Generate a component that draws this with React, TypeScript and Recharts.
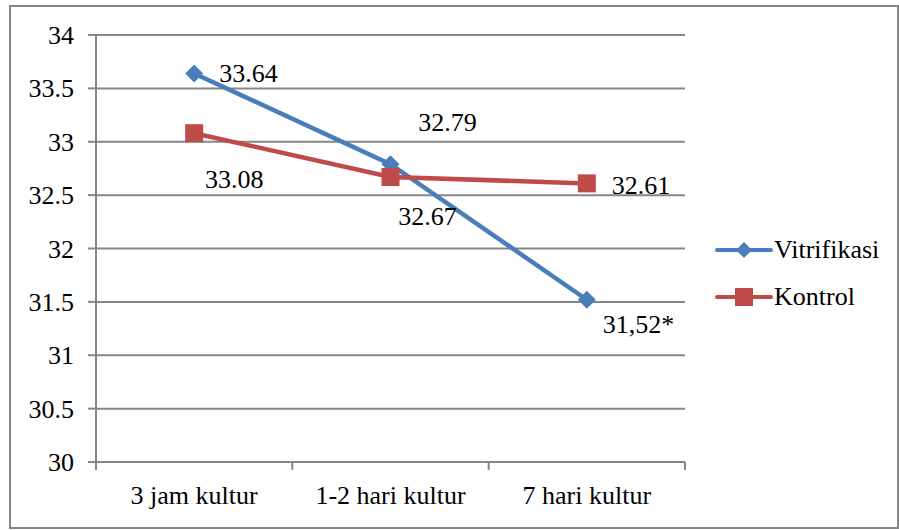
import { ComposedChart, Line, XAxis, YAxis, CartesianGrid, LabelList } from 'recharts'

const categories = ['3 jam kultur', '1-2 hari kultur', '7 hari kultur']
const vitrifikasi = [33.64, 32.79, 31.52]
const kontrol = [33.08, 32.67, 32.61]
const vitrifikasiLabels = ['33.64', '32.79', '31,52*']
const kontrolLabels = ['33.08', '32.67', '32.61']
const yTicks = [30, 30.5, 31, 31.5, 32, 32.5, 33, 33.5, 34]

const BLUE = '#4A7EBB'
const RED = '#BE4B48'
const GRID = '#868686'
const FONT = '"Times New Roman", "Liberation Serif", "DejaVu Serif", serif'
const FS = 26
const PLOT_W = 589

const data = categories.map((name, i) => ({
  name,
  vitrifikasi: vitrifikasi[i],
  kontrol: kontrol[i],
}))

// label offsets relative to the point, by index
const vitOffsets = [
  { dx: 25, dy: 9, anchor: 'start' },
  { dx: 57, dy: -33, anchor: 'middle' },
  { dx: 16, dy: 33, anchor: 'start' },
]
const konOffsets = [
  { dx: 40, dy: 55, anchor: 'middle' },
  { dx: 37, dy: 48, anchor: 'middle' },
  { dx: 25, dy: 11, anchor: 'start' },
]

function Diamond(props: any) {
  const { cx, cy } = props
  if (cx == null || cy == null) return null
  const r = 9
  return (
    <polygon
      points={`${cx},${cy - r} ${cx + r},${cy} ${cx},${cy + r} ${cx - r},${cy}`}
      fill={BLUE}
    />
  )
}

function Square(props: any) {
  const { cx, cy } = props
  if (cx == null || cy == null) return null
  const s = 18
  return <rect x={cx - s / 2} y={cy - s / 2} width={s} height={s} fill={RED} />
}

const makeLabel = (texts: string[], offsets: any[]) => (props: any) => {
  const { x, y, index } = props
  const o = offsets[index]
  return (
    <text x={x + o.dx} y={y + o.dy} textAnchor={o.anchor} fontSize={FS} style={{ fontFamily: FONT }} fill="#000">
      {texts[index]}
    </text>
  )
}

function XTick(props: any) {
  const { x, y, payload, index } = props
  const bw = PLOT_W / categories.length
  return (
    <g>
      <line x1={x - bw / 2} x2={x - bw / 2} y1={y - 8} y2={y} stroke={GRID} strokeWidth={2} />
      {index === categories.length - 1 && (
        <line x1={x + bw / 2} x2={x + bw / 2} y1={y - 8} y2={y} stroke={GRID} strokeWidth={2} />
      )}
      <text x={x} y={y + 34} textAnchor="middle" fontSize={FS} style={{ fontFamily: FONT }} fill="#000">
        {payload.value}
      </text>
    </g>
  )
}

function YTick(props: any) {
  const { x, y, payload } = props
  return (
    <text x={x} y={y + 9} textAnchor="end" fontSize={FS} style={{ fontFamily: FONT }} fill="#000">
      {payload.value}
    </text>
  )
}

function LegendBox() {
  const items = [
    { label: 'Vitrifikasi', color: BLUE, shape: 'diamond' },
    { label: 'Kontrol', color: RED, shape: 'square' },
  ]
  return (
    <div style={{ position: 'absolute', left: 704, top: 219, fontFamily: FONT, fontSize: FS }}>
      {items.map((it) => (
        <div key={it.label} style={{ display: 'flex', alignItems: 'center', height: 47 }}>
          <svg width={58} height={20}>
            <line x1={2} x2={56} y1={10} y2={10} stroke={it.color} strokeWidth={4} strokeLinecap="round" />
            {it.shape === 'diamond' ? (
              <polygon points="29,2 37,10 29,18 21,10" fill={it.color} />
            ) : (
              <rect x={20} y={1} width={18} height={18} fill={it.color} />
            )}
          </svg>
          <span style={{ marginLeft: 1 }}>{it.label}</span>
        </div>
      ))}
    </div>
  )
}

export default function App() {
  return (
    <div
      style={{
        position: 'absolute',
        left: 9,
        top: 5,
        width: 886,
        height: 520,
        border: `2px solid ${GRID}`,
        background: '#fff',
        fontFamily: FONT,
      }}
    >
      <ComposedChart
        width={886}
        height={520}
        data={data}
        margin={{ top: 28, right: 886 - 25 - 60 - PLOT_W, bottom: 15, left: 25 }}
      >
        <CartesianGrid vertical={false} stroke={GRID} strokeWidth={2} />
        <XAxis
          dataKey="name"
          stroke={GRID}
          strokeWidth={2}
          tickLine={false}
          height={50}
          tick={<XTick />}
          interval={0}
          padding={{ left: PLOT_W / 6, right: PLOT_W / 6 }}
        />
        <YAxis
          domain={[30, 34]}
          ticks={yTicks}
          width={60}
          stroke={GRID}
          strokeWidth={2}
          tickSize={8}
          tickMargin={14}
          tick={<YTick />}
          interval={0}
        />
        <Line
          dataKey="vitrifikasi"
          name="Vitrifikasi"
          stroke={BLUE}
          strokeWidth={4.5}
          dot={<Diamond />}
          isAnimationActive={false}
        >
          <LabelList content={makeLabel(vitrifikasiLabels, vitOffsets)} />
        </Line>
        <Line
          dataKey="kontrol"
          name="Kontrol"
          stroke={RED}
          strokeWidth={4.5}
          dot={<Square />}
          isAnimationActive={false}
        >
          <LabelList content={makeLabel(kontrolLabels, konOffsets)} />
        </Line>
      </ComposedChart>
      <LegendBox />
    </div>
  )
}
